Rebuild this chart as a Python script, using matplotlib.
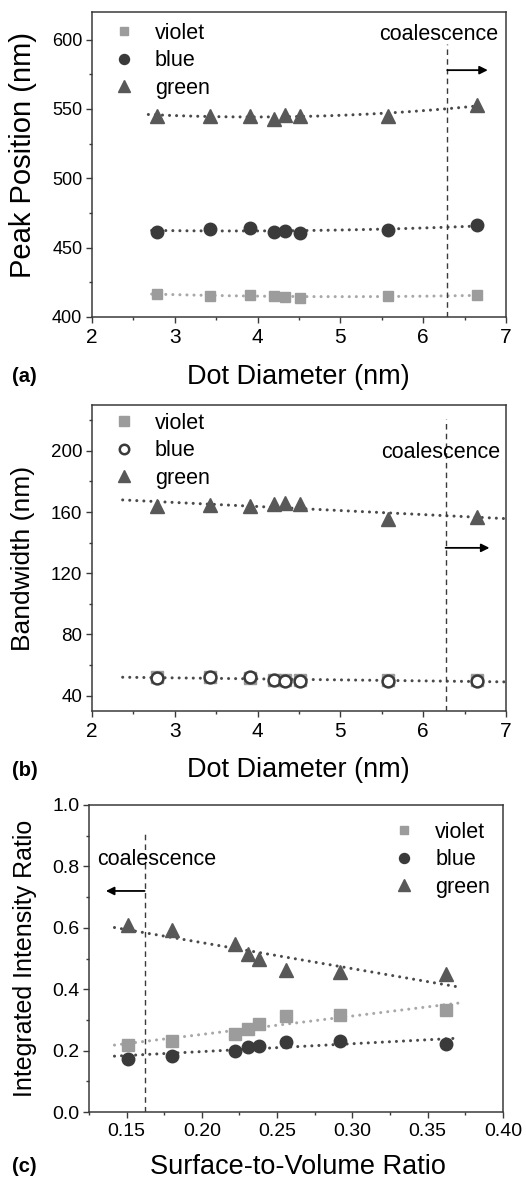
import numpy as np
import matplotlib
matplotlib.use("Agg")
import matplotlib.pyplot as plt
from matplotlib.ticker import MultipleLocator

plt.rcParams['font.family'] = ['Liberation Sans', 'DejaVu Sans']

# dot diameters (nm) and surface-to-volume ratio
diam = [2.78, 3.42, 3.91, 4.20, 4.33, 4.51, 5.58, 6.65]
sv_ratio = [0.151, 0.180, 0.222, 0.231, 0.238, 0.256, 0.292, 0.362]

# (a) peak position (nm)
peak_violet = [416.5, 415.0, 416.0, 415.0, 414.7, 414.0, 415.0, 415.5]
peak_blue = [461.0, 463.5, 464.5, 461.5, 462.0, 460.5, 463.0, 466.0]
peak_green = [545.0, 545.0, 545.0, 543.0, 546.0, 545.0, 545.0, 553.0]

# (b) bandwidth (nm)
bw_violet = [52.0, 52.0, 51.5, 50.5, 50.0, 50.0, 50.0, 50.0]
bw_blue = [51.8, 52.0, 52.0, 50.5, 49.8, 49.8, 49.8, 49.8]
bw_green = [164.0, 164.3, 164.0, 165.2, 165.7, 165.0, 155.4, 156.5]

# (c) integrated intensity ratio
int_violet = [0.217, 0.230, 0.255, 0.272, 0.288, 0.312, 0.315, 0.332]
int_blue = [0.174, 0.182, 0.199, 0.212, 0.215, 0.228, 0.230, 0.220]
int_green = [0.609, 0.592, 0.546, 0.516, 0.500, 0.462, 0.457, 0.451]

# coalescence markers
coal_a = 6.29
coal_b = 6.27
coal_c = 0.162

C_VIOLET = '#9c9c9c'
C_BLUE = '#3a3a3a'
C_GREEN = '#585858'
FIT_VIOLET = '#a8a8a8'
FIT_DARK = '#4a4a4a'
FRAME = '#3a3a3a'


def fit_line(ax, x, y, xr, deg, color):
    coef = np.polyfit(x, y, deg)
    xs = np.linspace(xr[0], xr[1], 200)
    ax.plot(xs, np.polyval(coef, xs), color=color, lw=2.2,
            linestyle=(0, (0.01, 2.3)), dash_capstyle='round', zorder=2)


def style_axes(ax, xsize, ysize):
    for s in ax.spines.values():
        s.set_color(FRAME)
        s.set_linewidth(1.1)
    ax.tick_params(which='both', direction='out', top=False, right=False,
                   color=FRAME)
    ax.tick_params(which='major', length=4, width=1)
    ax.tick_params(which='minor', length=2.5, width=1)
    ax.tick_params(axis='x', labelsize=xsize, pad=4)
    ax.tick_params(axis='y', labelsize=ysize, pad=3)


def legend(ax, anchor):
    ax.legend(loc='upper left', bbox_to_anchor=anchor, frameon=False,
              fontsize=15.5, handlelength=1.0, handletextpad=0.95,
              labelspacing=0.3, borderpad=0, borderaxespad=0,
              markerscale=0.8, numpoints=1)


fig = plt.figure(figsize=(5.26, 11.8), dpi=100)

# ---------- (a) ----------
ax = fig.add_axes([0.175, 0.7314, 0.787, 0.2585])
fit_line(ax, diam, peak_violet, (2.72, 6.68), 2, FIT_VIOLET)
fit_line(ax, diam, peak_blue, (2.72, 6.68), 2, FIT_DARK)
fit_line(ax, diam, peak_green, (2.68, 6.68), 2, FIT_DARK)
ax.plot(diam, peak_violet, 's', color=C_VIOLET, ms=7.5, label='violet', zorder=3)
ax.plot(diam, peak_blue, 'o', color=C_BLUE, ms=9, label='blue', zorder=3)
ax.plot(diam, peak_green, '^', color=C_GREEN, ms=10, label='green', zorder=3)
ax.axvline(coal_a, ymax=0.895, color=FRAME, lw=1, ls=(0, (4, 3)))
ax.text(6.19, 604, 'coalescence', fontsize=15.5, ha='center', va='center')
ax.annotate('', xy=(6.78, 578), xytext=(coal_a, 578),
            arrowprops=dict(arrowstyle='-|>', color='black', lw=1.3,
                            mutation_scale=12, shrinkA=0, shrinkB=0))
ax.set_xlim(2, 7)
ax.set_ylim(400, 620)
ax.xaxis.set_major_locator(MultipleLocator(1))
ax.xaxis.set_minor_locator(MultipleLocator(0.5))
ax.yaxis.set_major_locator(MultipleLocator(50))
ax.yaxis.set_minor_locator(MultipleLocator(25))
style_axes(ax, 15, 13)
legend(ax, (0.05, 0.965))
fig.text(298 / 526, 1 - 377 / 1180, 'Dot Diameter (nm)', fontsize=19.5,
         ha='center', va='center')
fig.text(23 / 526, 1 - 155 / 1180, 'Peak Position (nm)', fontsize=21,
         rotation=90, ha='center', va='center')
fig.text(12 / 526, 1 - 377 / 1180, '(a)', fontsize=14.5, fontweight='bold',
         ha='left', va='center')

# ---------- (b) ----------
ax = fig.add_axes([0.175, 0.3975, 0.787, 0.2593])
fit_line(ax, diam, bw_blue, (2.37, 7.0), 1, FIT_DARK)
fit_line(ax, diam, bw_green, (2.37, 7.0), 1, FIT_DARK)
ax.plot(diam, bw_violet, 's', color=C_VIOLET, ms=9, label='violet', zorder=3)
ax.plot(diam, bw_blue, 'o', mfc='white', mec=C_BLUE, mew=1.8, ms=8.5,
        label='blue', zorder=4)
ax.plot(diam, bw_green, '^', color=C_GREEN, ms=10, label='green', zorder=3)
ax.axvline(coal_b, ymax=0.955, color=FRAME, lw=1, ls=(0, (4, 3)))
ax.text(6.21, 198.7, 'coalescence', fontsize=15.5, ha='center', va='center')
ax.annotate('', xy=(6.8, 136.6), xytext=(coal_b, 136.6),
            arrowprops=dict(arrowstyle='-|>', color='black', lw=1.3,
                            mutation_scale=12, shrinkA=0, shrinkB=0))
ax.set_xlim(2, 7)
ax.set_ylim(30, 230)
ax.xaxis.set_major_locator(MultipleLocator(1))
ax.xaxis.set_minor_locator(MultipleLocator(0.5))
ax.yaxis.set_minor_locator(MultipleLocator(20))
ax.set_yticks([40, 80, 120, 160, 200])
style_axes(ax, 15, 13.5)
legend(ax, (0.05, 0.975))
fig.text(298 / 526, 1 - 770 / 1180, 'Dot Diameter (nm)', fontsize=19.5,
         ha='center', va='center')
fig.text(23 / 526, 1 - 558 / 1180, 'Bandwidth (nm)', fontsize=19,
         rotation=90, ha='center', va='center')
fig.text(12 / 526, 1 - 770 / 1180, '(b)', fontsize=14.5, fontweight='bold',
         ha='left', va='center')

# ---------- (c) ----------
ax = fig.add_axes([0.169, 0.0576, 0.787, 0.2602])
fit_line(ax, sv_ratio, int_violet, (0.142, 0.371), 1, FIT_VIOLET)
fit_line(ax, sv_ratio, int_blue, (0.142, 0.371), 1, FIT_DARK)
fit_line(ax, sv_ratio, int_green, (0.142, 0.371), 1, FIT_DARK)
ax.plot(sv_ratio, int_violet, 's', color=C_VIOLET, ms=8, label='violet', zorder=3)
ax.plot(sv_ratio, int_blue, 'o', color=C_BLUE, ms=9, label='blue', zorder=3)
ax.plot(sv_ratio, int_green, '^', color=C_GREEN, ms=10, label='green', zorder=3)
ax.axvline(coal_c, ymax=0.913, color=FRAME, lw=1, ls=(0, (4, 3)))
ax.text(0.170, 0.824, 'coalescence', fontsize=15.5, ha='center', va='center')
ax.annotate('', xy=(0.1363, 0.72), xytext=(coal_c, 0.72),
            arrowprops=dict(arrowstyle='-|>', color='black', lw=1.3,
                            mutation_scale=12, shrinkA=0, shrinkB=0))
ax.set_xlim(0.125, 0.40)
ax.set_ylim(0, 1.0)
ax.set_xticks([0.15, 0.20, 0.25, 0.30, 0.35, 0.40])
ax.set_xticklabels(['0.15', '0.20', '0.25', '0.30', '0.35', '0.40'])
ax.xaxis.set_minor_locator(MultipleLocator(0.025))
ax.yaxis.set_major_locator(MultipleLocator(0.2))
ax.yaxis.set_minor_locator(MultipleLocator(0.1))
style_axes(ax, 14, 14)
legend(ax, (0.735, 0.945))
fig.text(298 / 526, 1 - 1167 / 1180, 'Surface-to-Volume Ratio', fontsize=19.5,
         ha='center', va='center')
fig.text(25 / 526, 1 - 958 / 1180, 'Integrated Intensity Ratio', fontsize=18,
         rotation=90, ha='center', va='center')
fig.text(12 / 526, 1 - 1167 / 1180, '(c)', fontsize=14.5, fontweight='bold',
         ha='left', va='center')

fig.savefig('out.png', dpi=100, facecolor='white')
